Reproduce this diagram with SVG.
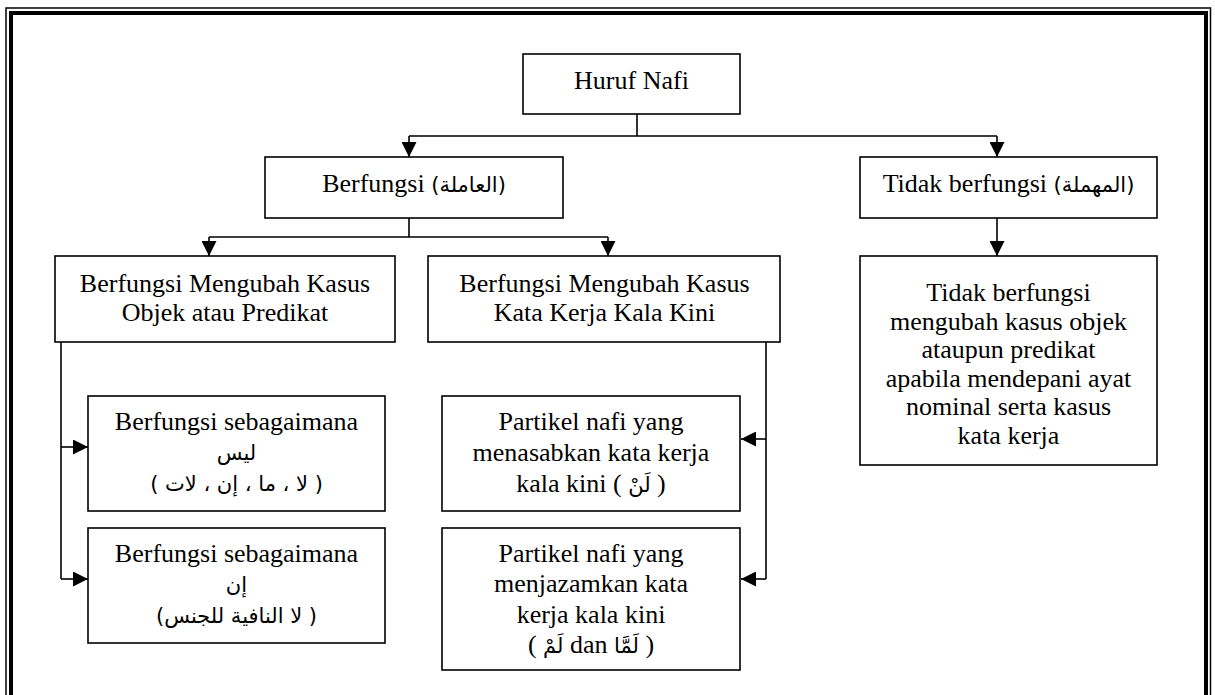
<svg xmlns="http://www.w3.org/2000/svg" width="1215" height="695" viewBox="0 0 1215 695">
<style>
.box{fill:#fff;stroke:#000;stroke-width:1.6}
.t{font-family:"Liberation Serif","DejaVu Sans",serif;font-size:26px;fill:#000;text-anchor:middle}
.ar{font-family:"DejaVu Sans","Liberation Serif",sans-serif;font-size:21px}
.rtl{direction:rtl;unicode-bidi:embed}
.c{fill:none;stroke:#000;stroke-width:1.6}
</style>
<defs>
<marker id="ah" markerUnits="userSpaceOnUse" markerWidth="16" markerHeight="15" refX="15" refY="7.5" orient="auto">
<path d="M0,0 L15,7.5 L0,15 z" fill="#000"/>
</marker>
</defs>
<rect width="1215" height="695" fill="#fff"/>
<g id="frame" fill="none" stroke="#000">
<rect x="6" y="8" width="1204.5" height="700" stroke-width="1.5"/>
<rect x="11" y="13" width="1195" height="700" stroke-width="4"/>
</g>
<g id="connectors">
<path class="c" d="M637,114 V136 M409,136 H997"/>
<path class="c" d="M409,136 V157" marker-end="url(#ah)"/>
<path class="c" d="M997,136 V157" marker-end="url(#ah)"/>
<path class="c" d="M409,218 V237 M209,237 H608"/>
<path class="c" d="M209,237 V256" marker-end="url(#ah)"/>
<path class="c" d="M608,237 V256" marker-end="url(#ah)"/>
<path class="c" d="M997,218 V256" marker-end="url(#ah)"/>
<path class="c" d="M61,342 V579"/>
<path class="c" d="M61,447 H88" marker-end="url(#ah)"/>
<path class="c" d="M61,579 H88" marker-end="url(#ah)"/>
<path class="c" d="M766,342 V579"/>
<path class="c" d="M766,439 H741" marker-end="url(#ah)"/>
<path class="c" d="M766,579 H741" marker-end="url(#ah)"/>
</g>
<g id="n-huruf">
<rect class="box" x="523" y="54" width="217" height="60"/>
<text class="t" x="631.5" y="89">Huruf Nafi</text>
</g>
<g id="n-berfungsi">
<rect class="box" x="265" y="157" width="298" height="61"/>
<text class="t" x="414" y="192">Berfungsi <tspan class="ar">(العاملة)</tspan></text>
</g>
<g id="n-tidak">
<rect class="box" x="860" y="157" width="297" height="61"/>
<text class="t" x="1008.5" y="192">Tidak berfungsi <tspan class="ar">(المهملة)</tspan></text>
</g>
<g id="n-objek">
<rect class="box" x="55" y="256" width="340" height="86"/>
<text class="t" x="225" y="292">Berfungsi Mengubah Kasus</text>
<text class="t" x="225" y="321">Objek atau Predikat</text>
</g>
<g id="n-katakerja">
<rect class="box" x="428" y="256" width="352" height="86"/>
<text class="t" x="604.5" y="292">Berfungsi Mengubah Kasus</text>
<text class="t" x="604.5" y="321">Kata Kerja Kala Kini</text>
</g>
<g id="n-tidak-desc">
<rect class="box" x="860" y="256" width="297" height="209"/>
<text class="t" x="1008.5" y="301">Tidak berfungsi</text>
<text class="t" x="1008.5" y="329.5">mengubah kasus objek</text>
<text class="t" x="1008.5" y="358">ataupun predikat</text>
<text class="t" x="1008.5" y="386.5">apabila mendepani ayat</text>
<text class="t" x="1008.5" y="415">nominal serta kasus</text>
<text class="t" x="1008.5" y="443.5">kata kerja</text>
</g>
<g id="n-laisa">
<rect class="box" x="88" y="396" width="297" height="115"/>
<text class="t" x="236.5" y="430">Berfungsi sebagaimana</text>
<text class="t ar" x="236.5" y="460">ليس</text>
<text class="t ar rtl" x="236.5" y="491">( لا ، ما ، إن ، لات )</text>
</g>
<g id="n-inna">
<rect class="box" x="88" y="528" width="297" height="115"/>
<text class="t" x="236.5" y="562">Berfungsi sebagaimana</text>
<text class="t ar" x="236.5" y="592">إن</text>
<text class="t ar rtl" x="236.5" y="623">( لا النافية للجنس)</text>
</g>
<g id="n-nasab">
<rect class="box" x="442" y="396" width="298" height="115"/>
<text class="t" x="591" y="430">Partikel nafi yang</text>
<text class="t" x="591" y="461">menasabkan kata kerja</text>
<text class="t" x="591" y="491.5">kala kini ( <tspan class="ar">لَنْ</tspan> )</text>
</g>
<g id="n-jazam">
<rect class="box" x="442" y="528" width="298" height="142"/>
<text class="t" x="591" y="562">Partikel nafi yang</text>
<text class="t" x="591" y="592">menjazamkan kata</text>
<text class="t" x="591" y="623">kerja kala kini</text>
<text class="t rtl" x="591" y="653">( <tspan class="ar">لَمَّا</tspan> dan <tspan class="ar">لَمْ</tspan> )</text>
</g>
</svg>
